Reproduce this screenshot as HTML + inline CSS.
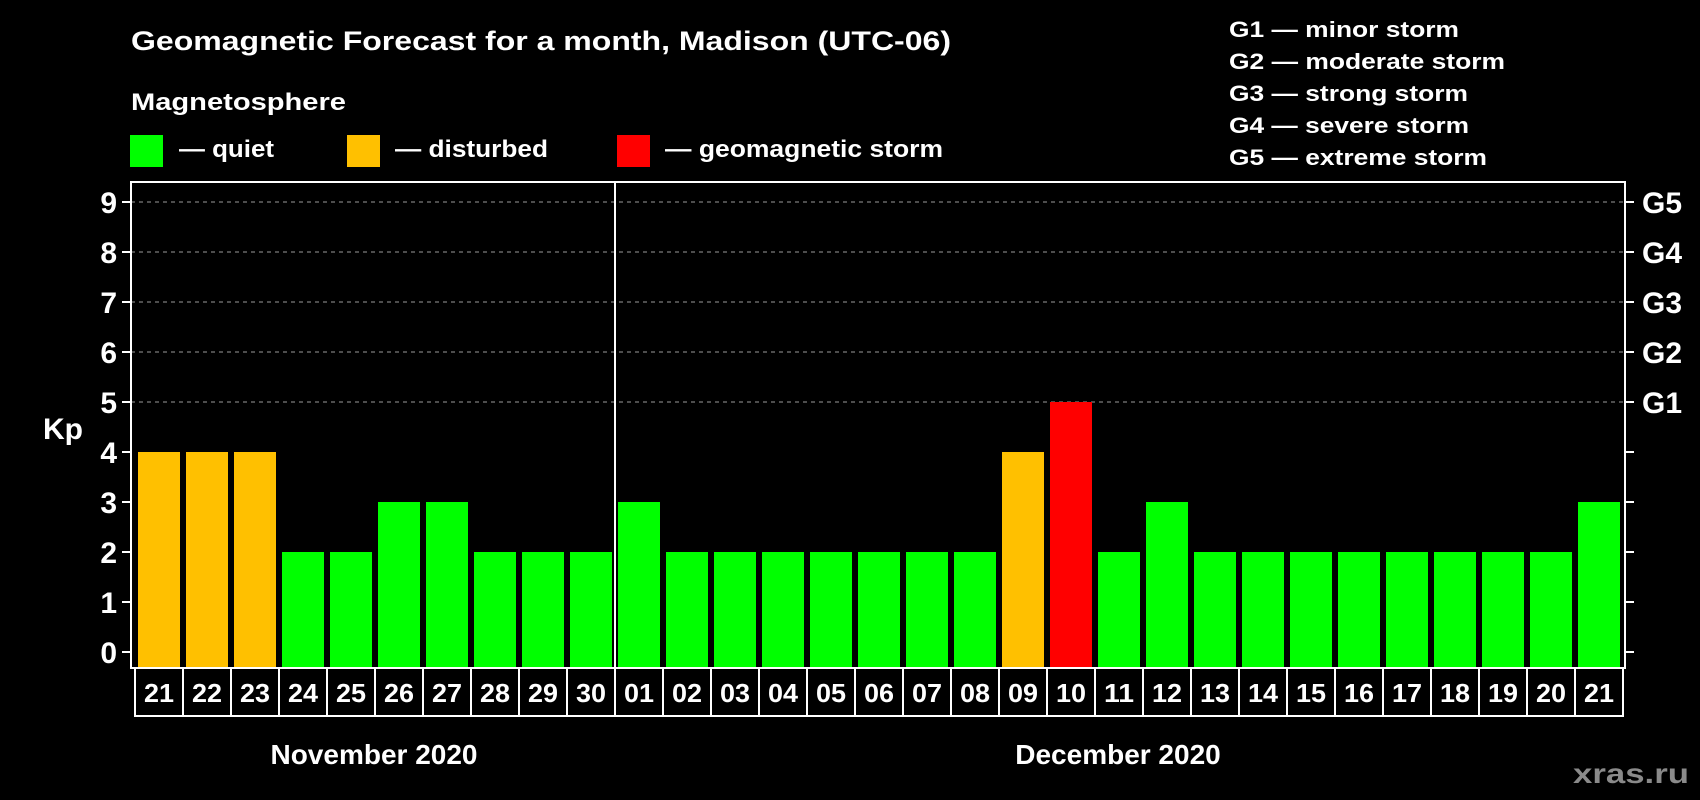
<!DOCTYPE html>
<html><head><meta charset="utf-8"><style>
html,body{margin:0;padding:0;background:#000;}
svg{display:block;font-family:"Liberation Sans",Arial,sans-serif;font-weight:bold;}
</style></head><body>
<svg id="chart" width="1700" height="800" viewBox="0 0 1700 800" xmlns="http://www.w3.org/2000/svg">
<rect x="0" y="0" width="1700" height="800" fill="#000"/>
<text x="131" y="50" font-size="27" fill="#fff" textLength="820" lengthAdjust="spacingAndGlyphs">Geomagnetic Forecast for a month, Madison (UTC-06)</text>
<text x="131" y="110" font-size="24" fill="#fff" textLength="215" lengthAdjust="spacingAndGlyphs">Magnetosphere</text>
<g>
<rect x="130" y="135" width="33" height="32" fill="#00ff00"/>
<text x="179" y="157" font-size="24" fill="#fff" textLength="95" lengthAdjust="spacingAndGlyphs">— quiet</text></g>
<g>
<rect x="347" y="135" width="33" height="32" fill="#ffc000"/>
<text x="395" y="157" font-size="24" fill="#fff" textLength="153" lengthAdjust="spacingAndGlyphs">— disturbed</text></g>
<g>
<rect x="617" y="135" width="33" height="32" fill="#ff0000"/>
<text x="665" y="157" font-size="24" fill="#fff" textLength="278" lengthAdjust="spacingAndGlyphs">— geomagnetic storm</text></g>
<g font-size="22" fill="#fff">
<text x="1229" y="37" textLength="230" lengthAdjust="spacingAndGlyphs">G1 — minor storm</text>
<text x="1229" y="69" textLength="276" lengthAdjust="spacingAndGlyphs">G2 — moderate storm</text>
<text x="1229" y="101" textLength="239" lengthAdjust="spacingAndGlyphs">G3 — strong storm</text>
<text x="1229" y="133" textLength="240" lengthAdjust="spacingAndGlyphs">G4 — severe storm</text>
<text x="1229" y="165" textLength="258" lengthAdjust="spacingAndGlyphs">G5 — extreme storm</text>
</g>
<text x="63" y="439" font-size="30" fill="#fff" text-anchor="middle">Kp</text>
<g id="grid"></g><g id="bars"></g><g id="axes"></g><g id="days"></g>
<text x="374" y="764" font-size="28" fill="#fff" text-anchor="middle">November 2020</text>
<text x="1118" y="764" font-size="28" fill="#fff" text-anchor="middle">December 2020</text>
<text x="1689" y="783" font-size="28" fill="#8a8a8a" text-anchor="end" textLength="116" lengthAdjust="spacingAndGlyphs">xras.ru</text>
</svg>
<script>
const days = ["21","22","23","24","25","26","27","28","29","30","01","02","03","04","05","06","07","08","09","10","11","12","13","14","15","16","17","18","19","20","21"];
const kpValues = [4,4,4,2,2,3,3,2,2,2,3,2,2,2,2,2,2,2,4,5,2,3,2,2,2,2,2,2,2,2,3];
const yTicks = [0,1,2,3,4,5,6,7,8,9];
const gLabels = ["","","","","","G1","G2","G3","G4","G5"];
const NS="http://www.w3.org/2000/svg";
const L=131,R=1625,T=182,B=668,y0=652,unit=50;
const x0=138,pitch=48,bw=42;
function yS(v){return y0-v*unit;}
function xS(i){return x0+i*pitch;}
function mk(tag,attrs,parent){const e=document.createElementNS(NS,tag);for(const k in attrs)e.setAttribute(k,attrs[k]);parent.appendChild(e);return e;}
function color(v){return v>=5?"#ff0000":(v>=4?"#ffc000":"#00ff00");}
const grid=document.getElementById('grid'),bars=document.getElementById('bars'),axes=document.getElementById('axes'),dg=document.getElementById('days');
yTicks.forEach(v=>{
  if(v>=5){const g=mk('line',{x1:L,x2:R,y1:yS(v),y2:yS(v),stroke:'#9a9a9a','stroke-width':1,'stroke-dasharray':'4,4'},grid);
  
  }
  const t=mk('line',{x1:L-9,x2:L,y1:yS(v),y2:yS(v),stroke:'#fff','stroke-width':2},axes);
  
  
  const t2=mk('line',{x1:R,x2:R+9,y1:yS(v),y2:yS(v),stroke:'#fff','stroke-width':2},axes);
  
  
  const lb=mk('text',{x:117,y:yS(v)+11,'font-size':30,fill:'#fff','text-anchor':'end'},axes);
  lb.textContent=v;
  
  
  if(gLabels[v]){const g=mk('text',{x:1642,y:yS(v)+11,'font-size':30,fill:'#fff'},axes);
  g.textContent=gLabels[v];
  
  }
});
kpValues.forEach((v,i)=>{
  const r=mk('rect',{x:xS(i),y:yS(v),width:bw,height:B-yS(v),fill:color(v)},bars);
  
  
});
const frame=mk('rect',{x:L,y:T,width:R-L,height:B-T,fill:'none',stroke:'#fff','stroke-width':2},axes);


const div=mk('line',{x1:615,x2:615,y1:T,y2:B,stroke:'#fff','stroke-width':2},axes);


const dbox=mk('rect',{x:135,y:B,width:pitch*days.length,height:48,fill:'none',stroke:'#fff','stroke-width':2},dg);


days.forEach((d,i)=>{
  const cx=135+i*pitch;
  if(i>0){const l=mk('line',{x1:cx,x2:cx,y1:B,y2:B+48,stroke:'#fff','stroke-width':2},dg);
  
  }
  const t=mk('text',{x:cx+pitch/2,y:B+34,'font-size':26,fill:'#fff','text-anchor':'middle',textLength:30,lengthAdjust:'spacingAndGlyphs'},dg);
  t.textContent=d;
  
  
});
</script>
</body></html>
